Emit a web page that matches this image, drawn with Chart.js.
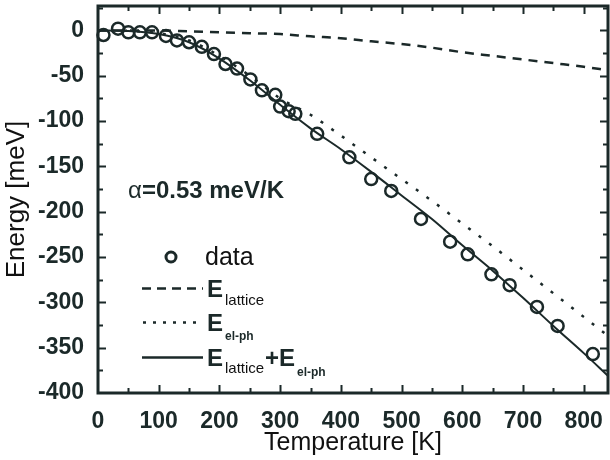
<!DOCTYPE html>
<html>
<head>
<meta charset="utf-8">
<script src="https://cdn.jsdelivr.net/npm/chart.js@4.4.1/dist/chart.umd.min.js"></script>
<style>
  body { margin: 0; background: #fff; }
</style>
</head>
<body>
<canvas id="chart" width="610" height="460"></canvas>
<script>
// values
const temps    = [0, 50, 100, 150, 200, 250, 300, 350, 400, 450, 500, 550, 600, 650, 700, 750, 800, 840];
const latticeE = [0, 0, 0, -1, -2, -3, -4, -6.5, -8.5, -12, -15, -19, -24, -28, -32, -36, -40, -44];
const elphE    = [0, -0.5, -3, -11, -28, -50, -75, -93, -116, -140, -164, -188, -213, -238, -264, -290, -316, -337];
const totalE   = [0, -0.5, -4, -13, -31, -55, -82, -108, -131, -156, -182, -208, -237, -265, -295, -326, -356, -381];

const dataT = [9, 33, 50, 69, 89, 112, 130, 150, 171, 191, 210, 229, 251, 270, 292, 300, 314, 325, 361, 414, 450, 483, 532, 580, 609, 648, 678, 723, 757, 815];
const dataE = [-5, 2, -2, -2, -2, -6, -11, -13, -18, -26, -37, -42, -54, -66, -71, -84, -89, -92, -114, -140, -164, -177, -208, -233, -247, -269, -281, -305, -326, -357];

const xTicks = [0, 100, 200, 300, 400, 500, 600, 700, 800];
const yTicks = [-400, -350, -300, -250, -200, -150, -100, -50, 0];

const ink = '#1b2929';
const pts = (xs, ys) => xs.map((x, i) => ({ x: x, y: ys[i] }));

// box with inward ticks on all four sides
const framePlugin = {
  id: 'frame',
  afterDatasetsDraw(chart) {
    const ctx = chart.ctx;
    const a = chart.chartArea;
    const xs = chart.scales.x, ys = chart.scales.y;
    ctx.save();
    ctx.strokeStyle = ink;
    ctx.lineWidth = 2;
    for (let t = 50; t < xs.max; t += 50) {
      const px = Math.round(xs.getPixelForValue(t)) + 0.5;
      const len = t % 100 === 0 ? 8 : 5;
      ctx.beginPath();
      ctx.moveTo(px, a.bottom); ctx.lineTo(px, a.bottom - len);
      ctx.moveTo(px, a.top); ctx.lineTo(px, a.top + len);
      ctx.stroke();
    }
    for (let v = -375; v < ys.max; v += 25) {
      const py = Math.round(ys.getPixelForValue(v)) + 0.5;
      const len = v % 50 === 0 ? 8 : 5;
      ctx.beginPath();
      ctx.moveTo(a.left, py); ctx.lineTo(a.left + len, py);
      ctx.moveTo(a.right, py); ctx.lineTo(a.right - len, py);
      ctx.stroke();
    }
    ctx.lineWidth = 3;
    ctx.strokeRect(a.left, a.top, a.right - a.left, a.bottom - a.top);
    ctx.restore();
  }
};

// legend with subscripts + alpha annotation
const notePlugin = {
  id: 'notes',
  afterDraw(chart) {
    const ctx = chart.ctx;
    ctx.save();
    ctx.textBaseline = 'alphabetic';
    ctx.fillStyle = ink;
    ctx.font = '24px "Liberation Sans"';
    ctx.fillText('\u03b1', 128, 198);
    const aw = ctx.measureText('\u03b1').width;
    ctx.font = 'bold 24px "Liberation Sans"';
    ctx.fillText('=0.53 meV/K', 128 + aw, 198);

    // data marker
    ctx.strokeStyle = ink;
    ctx.lineWidth = 3;
    ctx.beginPath();
    ctx.arc(171, 257, 5, 0, Math.PI * 2);
    ctx.stroke();
    ctx.fillStyle = '#111';
    ctx.font = '25px "Liberation Sans"';
    ctx.fillText('data', 205, 265);

    // dashed
    ctx.lineWidth = 2.5;
    ctx.setLineDash([9, 6]);
    ctx.beginPath(); ctx.moveTo(142, 288.5); ctx.lineTo(203, 288.5); ctx.stroke();
    // dotted
    ctx.setLineDash([3, 7]);
    ctx.beginPath(); ctx.moveTo(143, 322.5); ctx.lineTo(200, 322.5); ctx.stroke();
    // solid
    ctx.setLineDash([]);
    ctx.beginPath(); ctx.moveTo(142, 357.5); ctx.lineTo(203, 357.5); ctx.stroke();

    ctx.fillStyle = ink;
    ctx.font = 'bold 24px "Liberation Sans"';
    ctx.fillText('E', 207, 297);
    ctx.fillText('E', 207, 331);
    ctx.fillText('E', 207, 366);
    ctx.fillText('+E', 265, 366);
    ctx.font = 'bold 12px "Liberation Sans"';
    ctx.fillText('el-ph', 225, 340);
    ctx.fillText('el-ph', 297, 376);
    ctx.fillStyle = '#111';
    ctx.font = '15px "Liberation Sans"';
    ctx.fillText('lattice', 225, 305);
    ctx.fillText('lattice', 225, 373);
    ctx.restore();
  }
};

new Chart(document.getElementById('chart').getContext('2d'), {
  data: {
    datasets: [
      {
        type: 'line', label: 'E lattice', data: pts(temps, latticeE),
        borderColor: ink, borderWidth: 2.5, borderDash: [9, 7],
        pointRadius: 0, cubicInterpolationMode: 'monotone', fill: false
      },
      {
        type: 'line', label: 'E el-ph', data: pts(temps, elphE),
        borderColor: ink, borderWidth: 2.5, borderDash: [3, 10],
        pointRadius: 0, cubicInterpolationMode: 'monotone', fill: false
      },
      {
        type: 'line', label: 'E lattice + E el-ph', data: pts(temps, totalE),
        borderColor: ink, borderWidth: 2,
        pointRadius: 0, cubicInterpolationMode: 'monotone', fill: false
      },
      {
        type: 'scatter', label: 'data', data: pts(dataT, dataE),
        borderColor: ink, backgroundColor: 'rgba(0,0,0,0)',
        pointRadius: 6, pointBorderWidth: 2.5, clip: false
      }
    ]
  },
  options: {
    responsive: false,
    animation: false,
    devicePixelRatio: 1,
    layout: { autoPadding: false, padding: { top: 6, right: 2, left: 0, bottom: 0 } },
    plugins: { legend: { display: false }, tooltip: { enabled: false } },
    scales: {
      x: {
        type: 'linear', min: 0, max: 840,
        grid: { display: false }, border: { display: false },
        afterBuildTicks: s => { s.ticks = xTicks.map(v => ({ value: v })); },
        afterFit: s => { s.height = 67; s.paddingLeft = 0; s.paddingRight = 0; },
        ticks: { color: ink, padding: 7, maxRotation: 0, font: { family: 'Liberation Sans', size: 23, weight: 'bold' } },
        title: { display: true, text: 'Temperature [K]', color: '#111', padding: { top: 0, bottom: 2 },
                 font: { family: 'Liberation Sans', size: 25 } }
      },
      y: {
        type: 'linear', min: -400, max: 27,
        grid: { display: false }, border: { display: false },
        afterBuildTicks: s => { s.ticks = yTicks.map(v => ({ value: v })); },
        afterFit: s => { s.width = 98; s.paddingTop = 0; s.paddingBottom = 0; },
        ticks: { color: ink, padding: 6, font: { family: 'Liberation Sans', size: 23, weight: 'bold' } },
        title: { display: true, text: 'Energy [meV]', color: '#111', padding: { top: 1, bottom: 0 },
                 font: { family: 'Liberation Sans', size: 26 } }
      }
    }
  },
  plugins: [framePlugin, notePlugin]
});
</script>
</body>
</html>
